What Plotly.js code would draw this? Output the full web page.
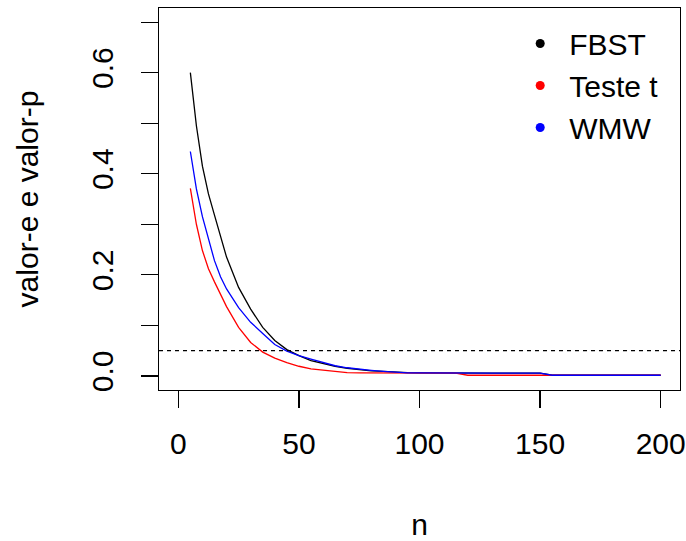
<!DOCTYPE html>
<html>
<head>
<meta charset="utf-8">
<script src="https://cdn.plot.ly/plotly-3.0.1.min.js"></script>
<style>html,body{margin:0;padding:0;background:#fff;}#chart{width:686px;height:541px;}</style>
</head>
<body>
<div id="chart"></div>
<script>
// Sample sizes
var n = [5,7.5,10,12.5,15,17.5,20,25,30,35,40,45,50,55,60,65,70,75,80,85,90,95,100,
         105,110,115,120,125,130,135,140,145,150,155,160,165,170,175,180,185,190,195,200];
// FBST e-values
var fbst = [0.600,0.495,0.415,0.360,0.318,0.275,0.235,0.175,0.132,0.096,0.070,0.052,0.040,0.030,0.024,0.019,0.015,0.012,0.010,0.0088,0.0072,0.0062,0.0058,
            0.0055,0.0055,0.0055,0.0055,0.0055,0.0055,0.0055,0.0055,0.0055,0.0055,0.0012,0.0012,0.0012,0.0012,0.0012,0.0012,0.0012,0.0012,0.0012,0.0012];
// t-test p-values
var testeT = [0.371,0.300,0.248,0.212,0.186,0.160,0.137,0.096,0.066,0.047,0.035,0.026,0.019,0.014,0.011,0.008,0.0062,0.0058,0.0056,0.0056,0.0056,0.0055,0.0055,
              0.0055,0.0055,0.0055,0.0012,0.0012,0.0012,0.0012,0.0012,0.0012,0.0012,0.0012,0.0012,0.0012,0.0012,0.0012,0.0012,0.0012,0.0012,0.0012,0.0012];
// Wilcoxon-Mann-Whitney p-values
var wmw = [0.444,0.370,0.315,0.270,0.228,0.196,0.172,0.135,0.106,0.084,0.062,0.049,0.040,0.033,0.026,0.020,0.016,0.013,0.011,0.009,0.0068,0.006,0.0058,
           0.0055,0.0055,0.0055,0.0055,0.0055,0.0055,0.0055,0.0055,0.0055,0.0055,0.0012,0.0012,0.0012,0.0012,0.0012,0.0012,0.0012,0.0012,0.0012,0.0012];
var seriesNames = ['FBST','Teste t','WMW'];
var seriesColors = ['#000000','#ff0000','#0000ff'];
var threshold = [0.05];
var xTicks = [0,50,100,150,200];
var yTicks = [0,0.1,0.2,0.3,0.4,0.5,0.6,0.7];
var yTickText = ['0.0','','0.2','','0.4','','0.6',''];

var FONT = 'Liberation Sans, Arial, sans-serif';
var ys = [fbst, testeT, wmw];
var traces = [];
for (var i = 0; i < 3; i++) {
  traces.push({x: n, y: ys[i], type: 'scatter', mode: 'lines',
    line: {color: seriesColors[i], width: 1.3}, showlegend: false, hoverinfo: 'skip'});
}
for (var j = 0; j < 3; j++) {
  traces.push({x: [null], y: [null], type: 'scatter', mode: 'markers', name: seriesNames[j],
    marker: {color: seriesColors[j], size: 9}, showlegend: true});
}

var layout = {
  width: 686, height: 541,
  paper_bgcolor: '#ffffff', plot_bgcolor: '#ffffff',
  margin: {l: 159, r: 6, t: 8, b: 151, pad: 0},
  font: {family: FONT, size: 30, color: '#000000'},
  showlegend: true,
  legend: {x: 0.676, y: 0.975, xanchor: 'left', yanchor: 'top', bgcolor: 'rgba(0,0,0,0)',
           font: {family: FONT, size: 30, color: '#000000'}, tracegroupgap: 0, itemsizing: 'trace', itemwidth: 48},
  xaxis: {range: [-8, 208], tickvals: xTicks, ticks: 'outside', ticklen: 17, tickwidth: 1.3, tickcolor: '#000',
          showline: true, mirror: true, linecolor: '#000', linewidth: 1.3, showgrid: false, zeroline: false,
          tickfont: {family: FONT, size: 30, color: '#000'}, ticklabelstandoff: 10,
          title: {text: 'n', font: {family: FONT, size: 30, color: '#000'}, standoff: 54}},
  yaxis: {range: [-0.028, 0.728], tickvals: yTicks, ticktext: yTickText, ticks: 'outside', ticklen: 17, tickwidth: 1.3,
          tickcolor: '#000', showline: true, mirror: true, linecolor: '#000', linewidth: 1.3, showgrid: false, zeroline: false,
          tickangle: -90, tickfont: {family: FONT, size: 30, color: '#000'}, ticklabelstandoff: 16,
          title: {text: 'valor-e e valor-p', font: {family: FONT, size: 30, color: '#000'}, standoff: 38}},
  shapes: [{type: 'line', xref: 'paper', x0: 0, x1: 1, yref: 'y', y0: threshold[0], y1: threshold[0],
            line: {color: '#000', width: 1.3, dash: '4px,4px'}}]
};
Plotly.newPlot('chart', traces, layout, {displayModeBar: false, staticPlot: true});
</script>
</body>
</html>
